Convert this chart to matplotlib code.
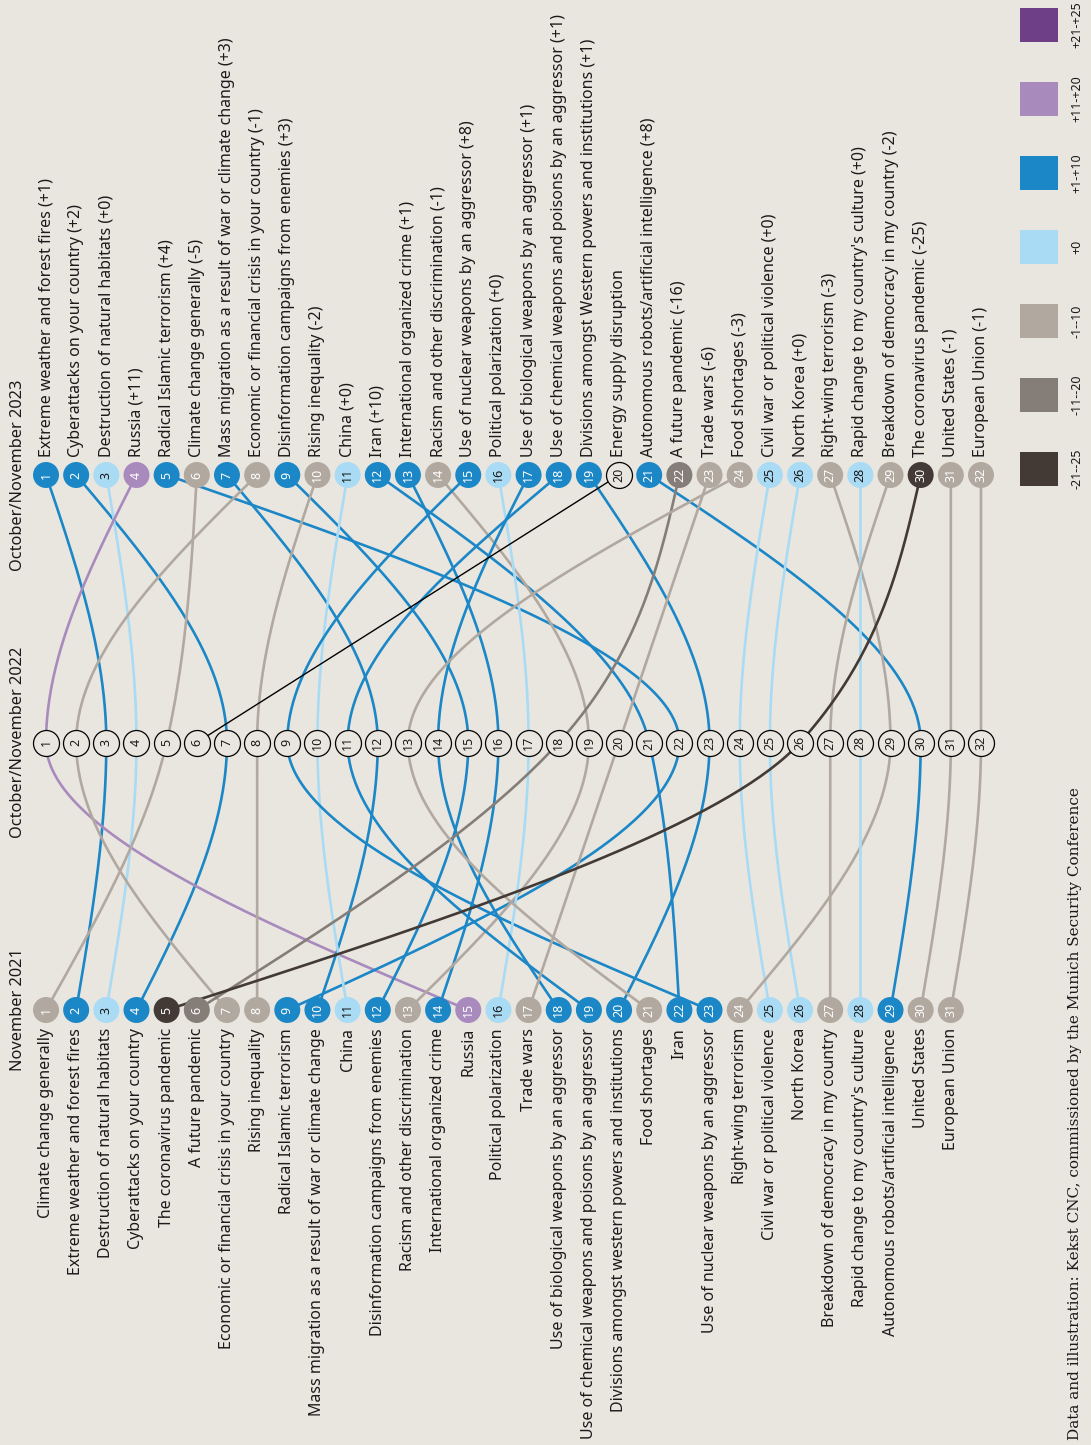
import numpy as np
import matplotlib.pyplot as plt
from matplotlib.patches import Rectangle
from matplotlib.transforms import blended_transform_factory, offset_copy

plt.rcParams['font.family'] = ['Noto Sans', 'DejaVu Sans']

bg = '#e9e6e0'

# items in 2023 order (rank 1..32)
items_2023 = ['Extreme weather and forest fires', 'Cyberattacks on your country',
              'Destruction of natural habitats', 'Russia', 'Radical Islamic terrorism',
              'Climate change generally', 'Mass migration as a result of war or climate change',
              'Economic or financial crisis in your country', 'Disinformation campaigns from enemies',
              'Rising inequality', 'China', 'Iran', 'International organized crime',
              'Racism and other discrimination', 'Use of nuclear weapons by an aggressor',
              'Political polarization', 'Use of biological weapons by an aggressor',
              'Use of chemical weapons and poisons by an aggressor',
              'Divisions amongst Western powers and institutions', 'Energy supply disruption',
              'Autonomous robots/artificial intelligence', 'A future pandemic', 'Trade wars',
              'Food shortages', 'Civil war or political violence', 'North Korea',
              'Right-wing terrorism', "Rapid change to my country's culture",
              'Breakdown of democracy in my country', 'The coronavirus pandemic',
              'United States', 'European Union']
change_2023 = [1, 2, 0, 11, 4, -5, 3, -1, 3, -2, 0, 10, 1, -1, 8, 0, 1, 1, 1, None,
               8, -16, -6, -3, 0, 0, -3, 0, -2, -25, -1, -1]
rank_2022 = [3, 7, 4, 1, 22, 5, 12, 2, 15, 8, 10, 21, 16, 19, 9, 17, 14, 11, 23, 6,
             30, 18, 20, 13, 24, 25, 29, 28, 27, 26, 31, 32]
rank_2021 = [2, 4, 3, 15, 9, 1, 10, 7, 12, 8, 11, 22, 14, 13, 23, 16, 18, 19, 20, None,
             29, 6, 17, 21, 25, 26, 24, 28, 27, 5, 30, 31]

# labels in 2021 order (rank 1..31)
labels_2021 = ['Climate change generally', 'Extreme weather and forest fires',
               'Destruction of natural habitats', 'Cyberattacks on your country',
               'The coronavirus pandemic', 'A future pandemic',
               'Economic or financial crisis in your country', 'Rising inequality',
               'Radical Islamic terrorism', 'Mass migration as a result of war or climate change',
               'China', 'Disinformation campaigns from enemies', 'Racism and other discrimination',
               'International organized crime', 'Russia', 'Political polarization', 'Trade wars',
               'Use of biological weapons by an aggressor',
               'Use of chemical weapons and poisons by an aggressor',
               'Divisions amongst western powers and institutions', 'Food shortages', 'Iran',
               'Use of nuclear weapons by an aggressor', 'Right-wing terrorism',
               'Civil war or political violence', 'North Korea',
               'Breakdown of democracy in my country', "Rapid change to my country's culture",
               'Autonomous robots/artificial intelligence', 'United States', 'European Union']

periods = ['November 2021', 'October/November 2022', 'October/November 2023']

legend_labels = ['+21-+25', '+11-+20', '+1-+10', '+0', '-1--10', '-11--20', '-21--25']
legend_colors = ['#6e3f86', '#a98abd', '#1b87c6', '#a9dbf5', '#b1a8a0', '#857d78', '#433a35']


def cat_color(c):
    if c is None:
        return None
    if c >= 21: return legend_colors[0]
    if c >= 11: return legend_colors[1]
    if c >= 1: return legend_colors[2]
    if c == 0: return legend_colors[3]
    if c >= -10: return legend_colors[4]
    if c >= -20: return legend_colors[5]
    return legend_colors[6]


def text_color(col):
    if col in (None, legend_colors[3]):
        return '#1a1a1a'
    return 'white'


def monotone(ts, xs, n=80):
    # d3 curveMonotoneY style interpolation (x as function of t)
    ts = np.asarray(ts, float); xs = np.asarray(xs, float)
    if len(ts) == 2:
        return ts, xs
    s0 = (xs[1] - xs[0]) / (ts[1] - ts[0])
    s1 = (xs[2] - xs[1]) / (ts[2] - ts[1])
    p = (s0 + s1) / 2
    m1 = (np.sign(s0) + np.sign(s1)) * min(abs(s0), abs(s1), 0.5 * abs(p))
    m0 = (3 * s0 - m1) / 2
    m2 = (3 * s1 - m1) / 2
    ms = [m0, m1, m2]
    out_t, out_x = [], []
    for i in range(2):
        h = ts[i + 1] - ts[i]
        u = np.linspace(0, 1, n)
        h00 = 2 * u**3 - 3 * u**2 + 1
        h10 = u**3 - 2 * u**2 + u
        h01 = -2 * u**3 + 3 * u**2
        h11 = u**3 - u**2
        x = h00 * xs[i] + h10 * h * ms[i] + h01 * xs[i + 1] + h11 * h * ms[i + 1]
        out_t.append(ts[i] + u * h)
        out_x.append(x)
    return np.concatenate(out_t), np.concatenate(out_x)


W, H = 1091, 1445
fig = plt.figure(figsize=(W / 100, H / 100), dpi=100, facecolor=bg)
ax = fig.add_axes([0, 0, 1, 1])
ax.set_facecolor(bg)
ax.set_xlim(1 - 46 / 30.16, 32 + (W - 981) / 30.16)
ax.set_ylim((1010 - H) / 267.5, 1010 / 267.5)
ax.axis('off')

# lines
for i in range(32):
    col = cat_color(change_2023[i])
    if rank_2021[i] is None:
        ax.plot([rank_2022[i], i + 1], [1, 2], color='black', lw=1.0, zorder=2,
                solid_capstyle='round')
        continue
    tt, xx = monotone([0, 1, 2], [rank_2021[i], rank_2022[i], i + 1])
    ax.plot(xx, tt, color=col, lw=1.9, zorder=2, solid_capstyle='round')

s = 350
fs_num = 9
# 2023 circles
for i in range(32):
    col = cat_color(change_2023[i])
    if col is None:
        ax.scatter(i + 1, 2, s=s, facecolor=bg, edgecolor='black', lw=0.9, zorder=3)
    else:
        ax.scatter(i + 1, 2, s=s, facecolor=col, edgecolor='none', zorder=3)
    ax.text(i + 1, 2, str(i + 1), rotation=90, ha='center', va='center', fontsize=fs_num,
            color=text_color(col), zorder=4)

# 2022 circles
for r in range(1, 33):
    ax.scatter(r, 1, s=s, facecolor=bg, edgecolor='black', lw=0.9, zorder=3)
    ax.text(r, 1, str(r), rotation=90, ha='center', va='center', fontsize=fs_num,
            color='#1a1a1a', zorder=4)

# 2021 circles
for i in range(32):
    if rank_2021[i] is None:
        continue
    col = cat_color(change_2023[i])
    ax.scatter(rank_2021[i], 0, s=s, facecolor=col, edgecolor='none', zorder=3)
    ax.text(rank_2021[i], 0, str(rank_2021[i]), rotation=90, ha='center', va='center',
            fontsize=fs_num, color=text_color(col), zorder=4)

# labels
up = offset_copy(ax.transData, fig=fig, x=0, y=18, units='dots')
down = offset_copy(ax.transData, fig=fig, x=0, y=-18, units='dots')
for i in range(32):
    c = change_2023[i]
    lab = items_2023[i] if c is None else f'{items_2023[i]} ({c:+d})'
    ax.text(i + 1, 2, lab, rotation=90, ha='center', va='bottom', fontsize=11.5,
            color='#1a1a1a', transform=up)
for j, lab in enumerate(labels_2021):
    ax.text(j + 1, 0, lab, rotation=90, ha='center', va='top', fontsize=11.5,
            color='#1a1a1a', transform=down)

# period titles
tr = blended_transform_factory(fig.transFigure, ax.transData)
for k, p in enumerate(periods):
    fig.text(18 / W, k, p, rotation=90, ha='center', va='center', fontsize=11.8,
             fontweight='bold', color='#1a1a1a', transform=tr)

# legend
for k, (lab, col) in enumerate(zip(legend_labels, legend_colors)):
    ytop = 8 + k * 74
    fig.add_artist(Rectangle((1020 / W, 1 - (ytop + 34) / H), 38 / W, 34 / H,
                             facecolor=col, edgecolor='none', transform=fig.transFigure))
    fig.text(1077 / W, 1 - (ytop + 17) / H, lab, rotation=90, ha='center', va='center',
             fontsize=9, color='#1a1a1a')

fig.text(1075 / W, 1 - 1440 / H,
         'Data and illustration: Kekst CNC, commissioned by the Munich Security Conference',
         rotation=90, ha='center', va='bottom', fontsize=11, family='DejaVu Serif',
         color='#1a1a1a')

fig.savefig('out.png', dpi=100, facecolor=bg)
